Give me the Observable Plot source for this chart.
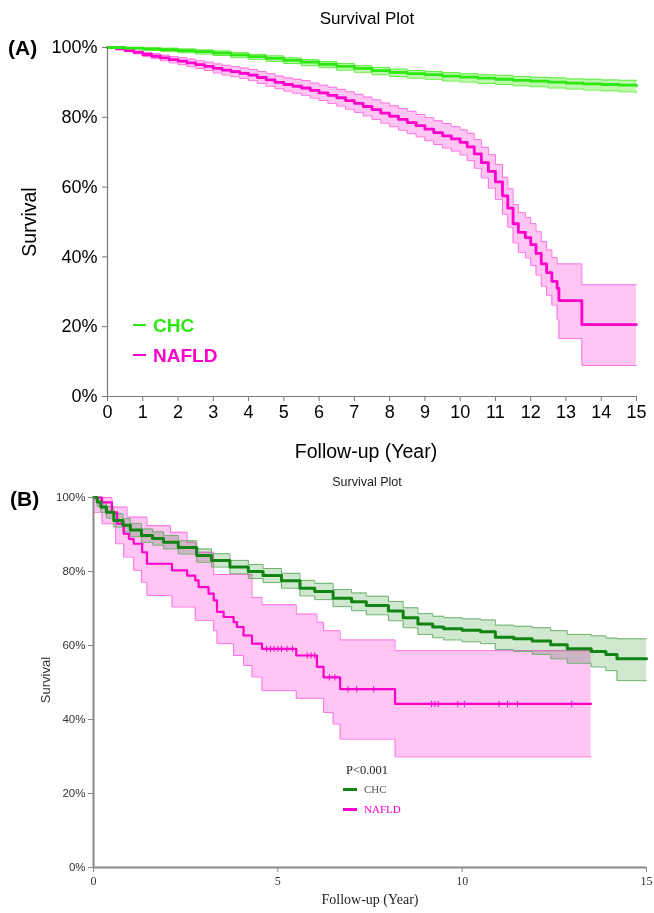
<!DOCTYPE html>
<html><head><meta charset="utf-8">
<script src="https://cdn.jsdelivr.net/npm/d3@7"></script>
<script src="https://cdn.jsdelivr.net/npm/@observablehq/plot@0.6"></script>
<style>
body{margin:0;background:#fff}
#wrap{position:relative;width:654px;height:913px;background:#fff;overflow:hidden}
.t{position:absolute;white-space:nowrap;line-height:1}
.sans{font-family:"Liberation Sans",Arial,Helvetica,sans-serif}
.serif{font-family:"Liberation Serif","Times New Roman",serif}
.seg{position:absolute}
#pa,#pb{position:absolute;left:0}
</style></head><body>
<div id="wrap">
  <div id="pa" style="top:0"></div>
  <div id="pb" style="top:470px"></div>
</div>
<script>
// ---------- Panel A data (percent survival) ----------
const aTicksX = [0,1,2,3,4,5,6,7,8,9,10,11,12,13,14,15];
const aTicksY = [0,20,40,60,80,100];
const aChcT = [0,0.5,1,1.5,2,2.5,3,3.5,4,4.5,5,5.5,6,6.5,7,7.5,8,8.5,9,9.5,10,10.5,11,11.5,12,12.5,13,13.5,14,14.5,15];
const aChcS = [100,99.8,99.6,99.4,99.1,98.8,98.4,97.9,97.4,96.9,96.3,95.8,95.2,94.6,94.0,93.4,92.9,92.5,92.2,91.8,91.5,91.2,90.9,90.6,90.35,90.1,89.8,89.6,89.4,89.2,89.0];
const aChcHi = [100,100,99.9,99.8,99.6,99.3,99.0,98.5,98.0,97.6,97.0,96.5,96.0,95.4,94.8,94.3,93.8,93.4,93.1,92.8,92.5,92.2,92.0,91.7,91.45,91.3,91.0,90.9,90.7,90.6,90.4];
const aChcLo = [100,99.6,99.2,98.9,98.5,98.1,97.7,97.1,96.6,96.0,95.4,94.8,94.2,93.5,92.9,92.2,91.7,91.2,90.9,90.4,90.1,89.7,89.4,89.0,88.75,88.4,88.1,87.8,87.6,87.3,87.0];
const aNafT = [0,0.25,0.5,0.75,1,1.25,1.5,1.75,2,2.25,2.5,2.75,3,3.25,3.5,3.75,4,4.25,4.5,4.75,5,5.25,5.5,5.75,6,6.25,6.5,6.75,7,7.25,7.5,7.75,8,8.25,8.5,8.75,9,9.25,9.5,9.75,10,10.2,10.4,10.6,10.8,11.0,11.2,11.35,11.5,11.65,11.85,12.0,12.15,12.3,12.45,12.6,12.75,12.8,13.45,15];
const aNafS = [100,99.6,99.1,98.6,98.0,97.5,97.0,96.5,96.1,95.6,95.1,94.6,94.0,93.5,93.1,92.6,92.1,91.4,90.7,90.0,89.4,88.9,88.4,87.7,87.0,86.3,85.6,84.8,84.0,83.1,82.2,81.2,80.3,79.4,78.5,77.6,76.6,75.6,74.7,73.8,72.8,71.5,69.5,67.0,64.5,61.5,57.5,54,49.5,47,45.5,43.5,41,38,35.5,33,31,27.5,20.6,20.6];
const aNafHi = [100,99.8,99.4,99.0,98.6,98.2,97.8,97.4,97.1,96.7,96.2,95.8,95.3,94.9,94.5,94.1,93.7,93.1,92.5,91.8,91.3,90.9,90.5,89.8,89.2,88.6,88.0,87.3,86.6,85.8,85.0,84.1,83.3,82.5,81.7,80.8,79.9,79.0,78.2,77.3,76.4,75.4,73.6,71.4,69.3,66.5,62.8,59.5,55.0,52.7,51.3,49.5,47.2,44.4,42.0,39.8,38,38,32,32];
const aNafLo = [100,99.4,98.8,98.2,97.4,96.8,96.2,95.6,95.1,94.5,94.0,93.4,92.7,92.1,91.6,91.1,90.5,89.7,88.9,88.2,87.5,86.9,86.3,85.5,84.8,84.0,83.2,82.3,81.4,80.4,79.4,78.3,77.3,76.3,75.3,74.4,73.3,72.2,71.2,70.3,69.2,67.6,65.4,62.6,59.7,56.5,52.2,48.5,44.0,41.3,39.7,37.5,34.8,31.6,29.0,26.2,22,16.6,8.9,8.9];

// ---------- Panel B data ----------
const bTicksX = [0,5,10,15];
const bTicksY = [0,20,40,60,80,100];
const bChcT = [0,0.1,0.2,0.35,0.55,0.8,1.0,1.3,1.6,1.9,2.3,2.8,3.2,3.7,4.2,4.6,5.1,5.6,6.0,6.5,7.0,7.4,8.0,8.4,8.8,9.2,9.5,10.0,10.5,10.9,11.4,11.9,12.4,12.85,13.5,13.9,14.2,15];
const bChcS = [100,98.8,97.4,96,93.8,92.5,91.2,89.7,88.9,87.9,86.5,84.3,83,81.2,80,78.9,77.5,75.5,74.6,72.8,71.8,70.8,69.3,67.5,65.8,65.0,64.5,64.1,63.7,62.2,61.8,61.2,60.2,59.1,58.4,57.6,56.4,56.4];
const bChcHi = [100,99.8,98.8,97.6,95.6,94.3,93.0,91.5,90.7,89.7,88.3,86.1,84.8,83.0,81.9,80.8,79.5,77.6,76.8,75.1,74.2,73.3,71.9,70.2,68.6,67.9,67.5,67.2,66.9,65.5,65.2,64.8,64.0,63.0,62.6,62.0,61.8,61.8];
const bChcLo = [100,97.6,96.0,94.4,92.0,90.7,89.4,87.9,87.1,86.1,84.7,82.5,81.2,79.4,78.1,77.0,75.5,73.4,72.4,70.5,69.4,68.3,66.7,64.8,63.0,62.1,61.5,61.0,60.5,58.9,58.4,57.6,56.4,55.2,54.2,53.2,50.5,50.5];
const bNafT = [0,0.23,0.5,0.64,0.82,0.96,1.09,1.32,1.45,2.13,2.54,2.76,2.85,3.12,3.26,3.35,3.53,3.8,3.89,4.07,4.3,4.57,5.5,6.06,6.24,6.69,8.18,13.5];
const bNafS = [100,98.7,96,92.9,90.2,88.8,87.5,85.2,82.1,80.3,78.9,77.6,75.8,74,72.2,69.1,67.7,66.3,65,62.7,60.5,59.1,57.3,54.2,51.4,48.2,44.2,44.2];
const bNafHiT = [0,0.5,0.91,1.45,2.09,2.54,2.76,3.26,4.3,4.57,5.5,6.06,6.24,6.69,8.18,13.5];
const bNafHiV = [100,97.4,94.7,92.4,90.6,87.9,85.2,79.2,73.0,71.0,68.5,66.3,64.0,61.5,58.6,58.6];
const bNafLoT = [0,0.23,0.6,0.82,1.09,1.3,1.45,2.13,2.76,3.26,3.35,3.8,4.07,4.3,4.57,5.5,6.24,6.5,6.69,8.18,13.5];
const bNafLoV = [96,92.9,87.5,83.9,80.3,77.1,73.5,70.4,66.8,64.0,60.5,57.3,54.6,51.5,47.8,45.7,41.9,38.8,34.7,29.9,29.9];
const bNafCensor = [4.7,4.8,4.9,5.0,5.1,5.25,5.4,5.8,5.9,6.0,6.4,6.55,6.9,7.14,7.6,9.17,9.26,9.35,9.88,10.06,11.0,11.23,11.5,12.97];

// ---------- helpers ----------
const rows = (t, s, lo, hi) => t.map((d, i) => ({t: d, s: s[i], lo: lo ? lo[i] : null, hi: hi ? hi[i] : null}));
function stepAt(ts, vs, x) { let v = vs[0]; for (let i = 0; i < ts.length; i++) if (ts[i] <= x) v = vs[i]; return v; }
const sans = "Liberation Sans, Arial, Helvetica, sans-serif";
const serif = "Liberation Serif, Times New Roman, serif";

// colours
const A_GREEN = "#2ee812", A_GREEN_BAND = "#bdf8ad", A_GREEN_EDGE = "#5cef3c";
const MAG = "#ff00cc", MAG_BAND = "#ffc6f4", MAG_EDGE = "#ff70e0";
const B_GREEN = "#138413", B_GREEN_BAND = "#cfe8cf", B_GREEN_EDGE = "#6cb06c";

const aChc = rows(aChcT, aChcS, aChcLo, aChcHi);
const aNaf = rows(aNafT, aNafS, aNafLo, aNafHi);

function bandMarks(data, fill, edge, extra = {}) {
  return [
    Plot.areaY(data, {x: "t", y1: "lo", y2: "hi", fill, curve: "step-after", ...extra}),
    Plot.lineY(data, {x: "t", y: "hi", stroke: edge, strokeWidth: 1, curve: "step-after"}),
    Plot.lineY(data, {x: "t", y: "lo", stroke: edge, strokeWidth: 1, curve: "step-after"})
  ];
}

const plotA = Plot.plot({
  width: 654, height: 470,
  marginLeft: 107, marginRight: 18, marginTop: 47, marginBottom: 74,
  style: {fontFamily: sans, fontSize: "18px", color: "#000", background: "transparent", overflow: "visible"},
  x: {domain: [0, 15]},
  y: {domain: [0, 100]},
  marks: [
    ...bandMarks(aNaf, MAG_BAND, MAG_EDGE),
    ...bandMarks(aChc, A_GREEN_BAND, A_GREEN_EDGE),
    Plot.lineY(aNaf, {x: "t", y: "s", stroke: MAG, strokeWidth: 2.8, curve: "step-after"}),
    Plot.lineY(aChc, {x: "t", y: "s", stroke: A_GREEN, strokeWidth: 2.8, curve: "step-after"}),
    Plot.ruleX([0], {stroke: "#777", strokeWidth: 1.2}),
    Plot.ruleY([0], {stroke: "#777", strokeWidth: 1.2}),
    Plot.axisY({ticks: aTicksY, tickFormat: d => d + "%", tickSize: 5, tickPadding: 5, stroke: "#777", fontSize: 18, label: null}),
    Plot.axisX({ticks: aTicksX, tickFormat: d => String(d), tickSize: 5, tickPadding: 4, stroke: "#777", fontSize: 18, label: null})
  ]
});
document.getElementById("pa").appendChild(plotA);

const bChc = rows(bChcT, bChcS, bChcLo, bChcHi);
const bNaf = rows(bNafT, bNafS);
const bandT = Array.from(new Set([...bNafHiT, ...bNafLoT])).sort((a, b) => a - b);
const bNafBand = bandT.map(t => ({t, lo: stepAt(bNafLoT, bNafLoV, t), hi: stepAt(bNafHiT, bNafHiV, t)}));
const bCens = bNafCensor.map(t => ({t, s: stepAt(bNafT, bNafS, t)}));

const plotB = Plot.plot({
  width: 654, height: 443,
  marginLeft: 93, marginRight: 8, marginTop: 27, marginBottom: 46,
  style: {fontFamily: sans, fontSize: "11.5px", color: "#333", background: "transparent", overflow: "visible"},
  x: {domain: [0, 15]},
  y: {domain: [0, 100]},
  marks: [
    ...bandMarks(bNafBand, MAG_BAND, MAG_EDGE, {mixBlendMode: "multiply"}),
    ...bandMarks(bChc, B_GREEN_BAND, B_GREEN_EDGE, {mixBlendMode: "multiply"}),
    Plot.lineY(bNaf, {x: "t", y: "s", stroke: MAG, strokeWidth: 2.2, curve: "step-after"}),
    Plot.dot(bCens, {x: "t", y: "s", symbol: "plus", r: 2.2, stroke: MAG, strokeWidth: 1}),
    Plot.lineY(bChc, {x: "t", y: "s", stroke: B_GREEN, strokeWidth: 3, curve: "step-after"}),
    Plot.ruleX([0], {stroke: "#888", strokeWidth: 2}),
    Plot.ruleY([0], {stroke: "#888", strokeWidth: 2}),
    Plot.axisY({ticks: bTicksY, tickFormat: d => d + "%", tickSize: 5, tickPadding: 3, stroke: "#888", fontSize: 11.5, label: null}),
    Plot.axisX({ticks: bTicksX, tickFormat: d => String(d), tickSize: 5, tickPadding: 4, stroke: "#888", fontSize: 12, fontFamily: serif, label: null})
  ]
});
document.getElementById("pb").appendChild(plotB);

// ---------- HTML text ----------
const wrap = document.getElementById("wrap");
function addText(txt, o) {
  const d = document.createElement("div");
  d.className = "t " + (o.cls || "sans");
  d.textContent = txt;
  d.style.fontSize = o.size + "px";
  if (o.bold) d.style.fontWeight = "bold";
  if (o.color) d.style.color = o.color;
  d.style.left = o.x + "px"; d.style.top = o.y + "px";
  let tr = o.center ? "translate(-50%,-50%) " : "translate(0,-50%) ";
  if (o.rot) tr += "rotate(" + o.rot + "deg)";
  d.style.transform = tr;
  wrap.appendChild(d);
}
function addSeg(x, y, w, h, color) {
  const d = document.createElement("div");
  d.className = "seg";
  Object.assign(d.style, {left: x + "px", top: (y - h / 2) + "px", width: w + "px", height: h + "px", background: color});
  wrap.appendChild(d);
}
// Panel A
addText("Survival Plot", {x: 367, y: 18, size: 17, center: true, color: "#000"});
addText("(A)", {x: 8, y: 47, size: 21, bold: true, color: "#000"});
addText("Survival", {x: 30, y: 222, size: 19.5, center: true, rot: -90, color: "#000"});
addText("Follow-up (Year)", {x: 366, y: 452, size: 19.5, center: true, color: "#000"});
addSeg(133, 325, 13, 2.5, A_GREEN);
addText("CHC", {x: 153, y: 325, size: 19, bold: true, color: A_GREEN});
addSeg(133, 355, 13, 2.5, MAG);
addText("NAFLD", {x: 153, y: 355, size: 19, bold: true, color: MAG});
// Panel B
addText("Survival Plot", {x: 367, y: 482, size: 12.5, center: true, color: "#222"});
addText("(B)", {x: 10, y: 498, size: 21, bold: true, color: "#000"});
addText("Survival", {x: 45, y: 680, size: 13, center: true, rot: -90, color: "#333"});
addText("Follow-up (Year)", {x: 370, y: 900, size: 14, center: true, cls: "serif", color: "#222"});
addText("P<0.001", {x: 367, y: 770, size: 12.5, center: true, cls: "serif", color: "#222"});
addSeg(343, 789, 14, 3, B_GREEN);
addText("CHC", {x: 364, y: 789, size: 11, cls: "serif", color: "#555"});
addSeg(343, 809, 14, 3, MAG);
addText("NAFLD", {x: 364, y: 809, size: 11, cls: "serif", color: MAG});
</script>
</body></html>
